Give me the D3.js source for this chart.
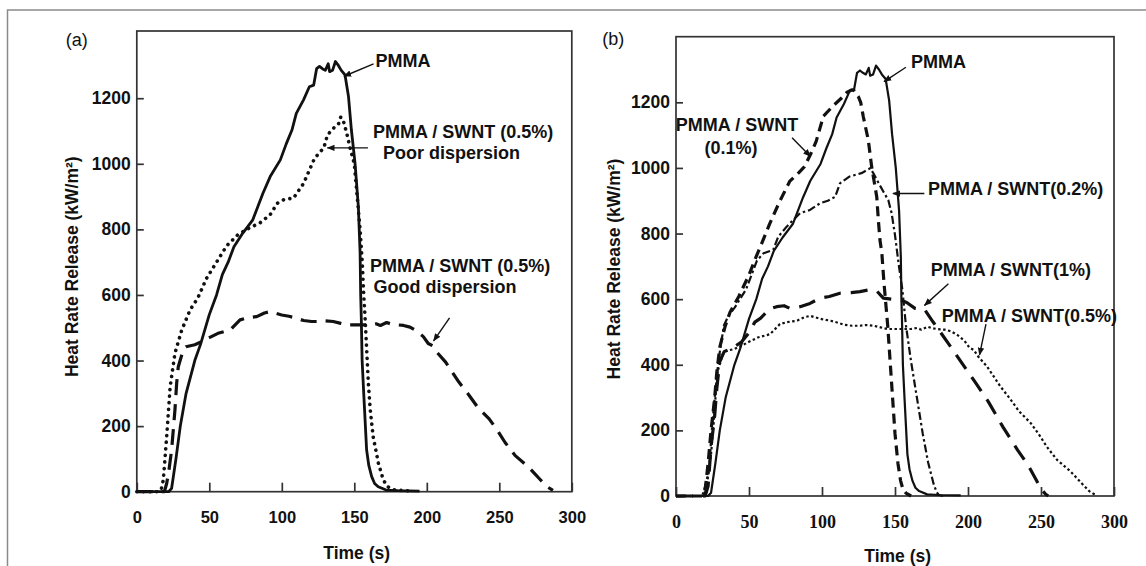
<!DOCTYPE html>
<html><head><meta charset="utf-8">
<script src="https://cdn.jsdelivr.net/npm/d3@7"></script>
<style>
body{margin:0;background:#fff}
svg{display:block}
</style>
</head><body>
<svg id="c" width="1146" height="566" font-family="'Liberation Sans',Arial,sans-serif"></svg>
<script>
// ---------------- DATA ----------------
const xTicks = [0, 50, 100, 150, 200, 250, 300];
const yTicks = [0, 200, 400, 600, 800, 1000, 1200];
const xTitle = "Time (s)";
const yTitle = "Heat Rate Release (kW/m²)";

// [time (s), heat release rate (kW/m²)]
const pmma = [[0,0],[22,0],[24,10],[27,100],[30,200],[34,300],[40,400],[44,450],[50,540],[55,600],[59,662],[63,700],[67,747],[73,788],[80,829],[87,910],[92,961],[99,1012],[103,1060],[107,1103],[110,1154],[115,1195],[119,1235],[122,1240],[124,1290],[126,1297],[128,1290],[130,1285],[132,1305],[133,1281],[135,1285],[137,1312],[139,1300],[141,1285],[143.6,1271],[146,1205],[148,1103],[150.5,1002],[152.8,869],[154,728],[154.4,600],[154.8,534],[155.4,400],[156.5,300],[158.5,127],[160,80],[162,46],[164,25],[166.5,15],[172,5],[180,3],[195,2]];

const swnt05Poor = [[0,0],[15,0],[17,10],[18.3,36],[20.6,168],[23,320],[26.3,422],[31,493],[36.7,554],[42,590],[48,650],[55,700],[62,750],[70,785],[78,805],[85,820],[92,845],[97,880],[102,892],[108,895],[115,940],[122.5,1016],[129,1049],[131.5,1088],[136,1110],[139,1120],[140.6,1142],[142,1138],[144.8,1093],[147,1050],[150,1000],[152,900],[154,800],[155.5,700],[156.5,600],[157.4,534],[159.7,331],[161,250],[163,168],[166.6,87],[170,36],[173,15],[178,5],[190,2]];

const swnt05Good = [[0,0],[19,0],[20.6,25],[22,60],[24,127],[26.3,249],[27.5,331],[28.6,381],[32,432],[33.9,442],[40,448],[44.8,458],[50,470],[56,483],[64.3,493],[71.2,524],[76,530],[82.7,534],[88,545],[91.9,549],[95,545],[99.9,539],[105,535],[110.3,529],[115,522],[120.6,519],[126,519],[130,521],[135.5,519],[140,514],[144.8,509],[150,509],[154,509],[160.8,509],[165,512],[168,507],[172.3,516],[175,512],[179,509],[184,507],[188.4,502],[193,490],[197.6,473],[201,452],[204,445],[207,425],[213,395],[222,335],[229,295],[235,258],[243,222],[249,185],[254,150],[261,110],[270,76],[278,38],[283,15],[287,4]];

const swnt01 = [[0,0],[18,0],[20,20],[22,100],[24,200],[26.5,300],[28,380],[30,454],[33.6,516],[37,560],[43,608],[50,674],[54,720],[58,762],[64,828],[70.6,894],[78,960],[84,985],[88,1004],[92,1040],[96,1081],[101,1158],[108,1191],[113.4,1213],[117,1230],[120.3,1238],[122,1235],[124.9,1217],[126.5,1200],[128.3,1156],[131.7,1085],[134,1004],[137.5,912],[138.6,841],[139.7,780],[141,740],[142.4,652],[145,520],[147.5,355],[150,190],[152,100],[153.8,47],[155.5,20],[157.5,9],[161,0]];

const swnt02 = [[0,0],[18,0],[20,30],[22.7,80],[24.5,200],[26.5,300],[29,410],[32.8,520],[36,550],[40.3,575],[48,630],[55.5,718],[60,740],[66.6,750],[70,790],[75.8,821],[80,840],[85,862],[91.8,872],[98.6,892],[104,900],[109,912],[112.3,953],[119,974],[127,984],[133,999],[135,985],[138,960],[142,928],[145.4,902],[147.7,862],[150,795],[152.5,707],[155,630],[157.5,520],[161,410],[165,300],[169,190],[172.7,102],[176.5,36],[178.5,12],[180,3],[183,0]];

const swnt1 = [[0,0],[20,0],[22,30],[24,150],[26.5,245],[28,330],[30,410],[33,440],[36,446],[40,455],[45,470],[50,498],[54,530],[58,542],[64,570],[69,577],[74,580],[78,572],[85,577],[91.8,587],[98.6,603],[105,608],[112.3,618],[120,620],[126,623],[132,628],[137.5,625],[142,603],[148,600],[153.4,598],[158,590],[163.7,572],[170.5,567],[176,531],[181,500],[186.5,465],[196.8,399],[204.8,348],[214,287],[224,210],[234,140],[241,95],[246,55],[250,22],[253,6],[255,0]];

// ---------------- LAYOUT ----------------
const SANS = "Liberation Sans, Arial, sans-serif";
const SERIF = "Liberation Serif, DejaVu Serif, serif";
const svg = d3.select("#c");
const defs = svg.append("defs");
defs.append("marker").attr("id","ah").attr("viewBox","0 0 10 10").attr("refX",9).attr("refY",5)
  .attr("markerWidth",8).attr("markerHeight",8).attr("markerUnits","userSpaceOnUse").attr("orient","auto")
  .append("path").attr("d","M0,1 L10,5 L0,9 Z").attr("fill","#111");

// outer frame
svg.append("path").attr("d","M7.5,566 L7.5,10 L1146,10").attr("fill","none").attr("stroke","#8a8a8a").attr("stroke-width",1.5);

function panel(cfg){
  const x = d3.scaleLinear().domain([0,300]).range([cfg.x0,cfg.x1]);
  const y = d3.scaleLinear().domain([0,cfg.yMax]).range([cfg.y0,cfg.y1]);
  const g = svg.append("g");
  g.append("rect").attr("x",cfg.x0).attr("y",cfg.y1).attr("width",cfg.x1-cfg.x0).attr("height",cfg.y0-cfg.y1)
    .attr("fill","none").attr("stroke","#333").attr("stroke-width",1.7);
  const gx = g.append("g").attr("transform",`translate(0,${cfg.y0})`)
    .call(d3.axisBottom(x).tickValues(xTicks).tickSizeInner(-9).tickSizeOuter(0).tickPadding(cfg.xPad).tickFormat(d3.format("d")));
  gx.select(".domain").remove();
  gx.selectAll(".tick line").attr("stroke","#333").attr("stroke-width",1.7);
  gx.selectAll(".tick text").attr("fill","#111").style("font-family",cfg.xFont)
    .style("font-size",cfg.xSize+"px").style("font-weight","bold");
  const gy = g.append("g").attr("transform",`translate(${cfg.x0},0)`)
    .call(d3.axisLeft(y).tickValues(yTicks).tickSizeInner(-7).tickSizeOuter(0).tickPadding(6).tickFormat(d3.format("d")));
  gy.select(".domain").remove();
  gy.selectAll(".tick line").attr("stroke","#333").attr("stroke-width",1.7);
  gy.selectAll(".tick text").attr("fill","#111").style("font-family",SANS)
    .style("font-size","17.5px").style("font-weight","bold");
  g.append("text").attr("x",cfg.xtX).attr("y",cfg.xtY).attr("dy","0.35em").attr("text-anchor","middle")
    .attr("font-weight","bold").attr("font-size",17.5).attr("fill","#111").text(xTitle);
  g.append("text").attr("transform",`translate(${cfg.ytX},${cfg.ytY}) rotate(-90)`).attr("dy","0.35em").attr("text-anchor","middle")
    .attr("font-weight","bold").attr("font-size",17.5).attr("fill","#111").text(yTitle);
  g.append("text").attr("x",cfg.lbX).attr("y",cfg.lbY).attr("dy","0.35em").attr("text-anchor","middle")
    .attr("font-size",18).attr("fill","#111").text(cfg.label);
  return {x,y,g};
}

function drawSeries(p, data, style){
  const line = d3.line().x(d=>p.x(d[0])).y(d=>p.y(d[1]));
  p.g.append("path").datum(data).attr("d",line).attr("fill","none")
    .attr("stroke","#111").attr("stroke-width",style.w)
    .attr("stroke-dasharray",style.dash||null)
    .attr("stroke-linecap",style.cap||"butt").attr("stroke-linejoin","round");
}
function annotate(p, notes, arrows){
  notes.forEach(n=>{
    p.g.append("text").attr("x",p.x(n.t)).attr("y",p.y(n.v)).attr("dy","0.35em")
      .attr("text-anchor",n.anchor||"start").attr("font-weight","bold").attr("font-size",18).attr("fill","#111").text(n.text);
  });
  arrows.forEach(a=>{
    p.g.append("line").attr("x1",p.x(a[0])).attr("y1",p.y(a[1])).attr("x2",p.x(a[2])).attr("y2",p.y(a[3]))
      .attr("stroke","#111").attr("stroke-width",1.4).attr("marker-end","url(#ah)");
  });
}

// ---------------- PANEL (a) ----------------
const A = panel({x0:136.8,x1:571.8,y0:491.7,y1:31,yMax:1405,xPad:20,xFont:SANS,xSize:16.5,
  xtX:356.7,xtY:552.7,ytX:71.7,ytY:266.7,lbX:76.7,lbY:40,label:"(a)"});
drawSeries(A, swnt05Good, {w:3.2, dash:"16,9"});
drawSeries(A, swnt05Poor, {w:3.6, dash:"0.1,6.5", cap:"round"});
drawSeries(A, pmma, {w:2.8});
annotate(A,[
  {t:164.6,v:1313,text:"PMMA"},
  {t:162.9,v:1098.5,text:"PMMA / SWNT (0.5%)"},
  {t:169.8,v:1033,text:"Poor dispersion"},
  {t:160.8,v:689,text:"PMMA / SWNT (0.5%)"},
  {t:163.3,v:625,text:"Good dispersion"}
],[
  [163.3,1305,142.9,1267],
  [159.4,1048.5,131.4,1048.5],
  [215.7,530,204.7,460]
]);

// ---------------- PANEL (b) ----------------
const B = panel({x0:676,x1:1114,y0:496,y1:36.7,yMax:1400,xPad:19,xFont:SERIF,xSize:18,
  xtX:897.7,xtY:556,ytX:614,ytY:269,lbX:613.3,lbY:38.3,label:"(b)"});
drawSeries(B, swnt05Good, {w:2.2, dash:"2.5,2.5"});
drawSeries(B, swnt1, {w:3.2, dash:"17,10"});
drawSeries(B, swnt02, {w:2.2, dash:"8,3,2.5,3"});
drawSeries(B, swnt01, {w:3.2, dash:"10,6"});
drawSeries(B, pmma, {w:2.2});
annotate(B,[
  {t:161,v:1323,text:"PMMA"},
  {t:41.8,v:1131,text:"PMMA / SWNT",anchor:"middle"},
  {t:37.7,v:1062,text:"(0.1%)",anchor:"middle"},
  {t:172.6,v:938,text:"PMMA / SWNT(0.2%)"},
  {t:174.5,v:691,text:"PMMA / SWNT(1%)"},
  {t:182,v:549,text:"PMMA / SWNT(0.5%)"}
],[
  [157.5,1307,142.5,1263],
  [79.5,1092,92.1,1035],
  [170.1,922,148.6,922],
  [186.6,647,170.2,581],
  [212.3,524,207.9,430]
]);
</script>
</body></html>
